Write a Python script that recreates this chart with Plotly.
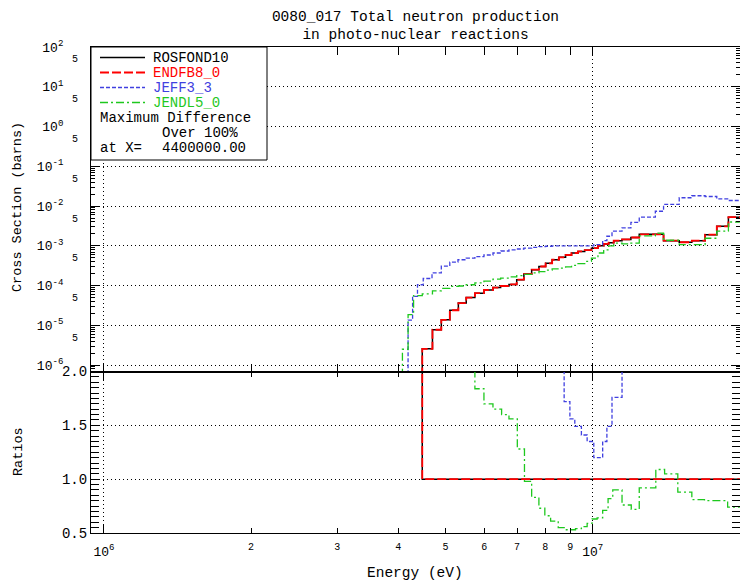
import math
import plotly.graph_objects as go

# ---------------- data ----------------
# Top panel: cross sections (barns) as histogram steps; each value holds from its
# energy up to the next energy.  1e-9 marks "zero" below threshold (off the log axis).
ros_e = [4.00e6, 4.48e6, 4.70e6, 4.90e6, 5.10e6, 5.31e6, 5.51e6, 5.74e6, 5.99e6, 6.25e6,
         6.48e6, 6.74e6, 6.99e6, 7.23e6, 7.50e6, 7.76e6, 8.01e6, 8.26e6, 8.53e6, 8.80e6,
         9.05e6, 9.33e6, 9.63e6, 9.94e6, 1.025e7, 1.053e7, 1.078e7, 1.104e7, 1.148e7, 1.197e7,
         1.245e7, 1.343e7, 1.396e7, 1.503e7, 1.595e7, 1.698e7, 1.794e7, 1.895e7, 2.00e7]
ros_xs = [1e-9, 2.57e-6, 7.76e-6, 1.38e-5, 2.40e-5, 3.63e-5, 5.01e-5, 6.46e-5, 7.76e-5, 8.91e-5,
          9.77e-5, 1.07e-4, 1.41e-4, 1.95e-4, 2.51e-4, 3.02e-4, 3.63e-4, 4.47e-4, 5.13e-4, 5.89e-4,
          6.61e-4, 7.24e-4, 7.76e-4, 8.71e-4, 1.00e-3, 1.12e-3, 1.20e-3, 1.35e-3, 1.45e-3, 1.62e-3,
          1.95e-3, 1.95e-3, 1.35e-3, 1.23e-3, 1.35e-3, 1.91e-3, 3.09e-3, 5.25e-3, 5.25e-3]

endf_e = [4.00e6, 4.48e6, 4.70e6, 4.90e6, 5.10e6, 5.31e6, 5.51e6, 5.74e6, 5.99e6, 6.25e6,
          6.48e6, 6.74e6, 6.99e6, 7.23e6, 7.50e6, 7.76e6, 8.01e6, 8.26e6, 8.53e6, 8.80e6,
          9.05e6, 9.33e6, 9.63e6, 9.94e6, 1.025e7, 1.053e7, 1.078e7, 1.104e7, 1.148e7, 1.197e7,
          1.245e7, 1.343e7, 1.396e7, 1.503e7, 1.595e7, 1.698e7, 1.794e7, 1.895e7, 2.00e7]
endf_xs = [1e-9, 2.57e-6, 7.76e-6, 1.38e-5, 2.40e-5, 3.63e-5, 5.01e-5, 6.46e-5, 7.76e-5, 8.91e-5,
           9.77e-5, 1.07e-4, 1.41e-4, 1.95e-4, 2.51e-4, 3.02e-4, 3.63e-4, 4.47e-4, 5.13e-4, 5.89e-4,
           6.61e-4, 7.24e-4, 7.76e-4, 8.71e-4, 1.00e-3, 1.12e-3, 1.20e-3, 1.35e-3, 1.45e-3, 1.62e-3,
           1.95e-3, 1.95e-3, 1.35e-3, 1.23e-3, 1.35e-3, 1.91e-3, 3.09e-3, 5.25e-3, 5.25e-3]

jeff_e = [4.00e6, 4.19e6, 4.28e6, 4.38e6, 4.50e6, 4.69e6, 4.90e6, 5.10e6, 5.30e6, 5.51e6,
          5.74e6, 5.99e6, 6.25e6, 6.49e6, 6.74e6, 6.99e6, 7.23e6, 7.50e6, 7.76e6, 8.01e6,
          8.26e6, 1.005e7, 1.048e7, 1.069e7, 1.095e7, 1.148e7, 1.197e7, 1.245e7, 1.343e7, 1.396e7,
          1.503e7, 1.595e7, 1.698e7, 1.794e7, 1.895e7, 2.00e7]
jeff_xs = [1e-9, 1.35e-5, 5.37e-5, 1.05e-4, 1.51e-4, 2.09e-4, 3.09e-4, 3.89e-4, 4.47e-4, 4.90e-4,
           5.37e-4, 5.89e-4, 6.61e-4, 7.41e-4, 7.94e-4, 8.32e-4, 8.71e-4, 9.12e-4, 9.55e-4, 9.77e-4,
           1.00e-3, 1.07e-3, 1.35e-3, 1.74e-3, 2.34e-3, 2.82e-3, 3.89e-3, 5.25e-3, 7.41e-3, 1.10e-2,
           1.62e-2, 1.82e-2, 1.74e-2, 1.51e-2, 1.38e-2, 1.38e-2]

jendl_e = [4.00e6, 4.08e6, 4.19e6, 4.30e6, 4.48e6, 4.70e6, 4.90e6, 5.10e6, 5.31e6, 5.51e6,
           5.74e6, 5.99e6, 6.25e6, 6.48e6, 6.74e6, 6.99e6, 7.23e6, 7.50e6, 7.76e6, 8.01e6,
           8.26e6, 8.53e6, 8.80e6, 9.05e6, 9.33e6, 9.63e6, 9.94e6, 1.025e7, 1.053e7, 1.078e7,
           1.104e7, 1.148e7, 1.197e7, 1.245e7, 1.343e7, 1.396e7, 1.503e7, 1.595e7, 1.698e7, 1.794e7,
           1.895e7, 2.00e7]
jendl_xs = [1e-9, 2.51e-6, 1.86e-5, 5.62e-5, 6.17e-5, 7.41e-5, 8.51e-5, 9.55e-5, 9.77e-5, 1.05e-4,
            1.17e-4, 1.29e-4, 1.45e-4, 1.55e-4, 1.66e-4, 1.78e-4, 1.91e-4, 2.09e-4, 2.24e-4, 2.45e-4,
            2.63e-4, 2.75e-4, 2.95e-4, 3.24e-4, 3.55e-4, 4.07e-4, 4.90e-4, 6.61e-4, 7.94e-4, 1.00e-3,
            1.17e-3, 1.12e-3, 1.17e-3, 1.78e-3, 2.09e-3, 1.38e-3, 1.07e-3, 1.07e-3, 1.55e-3, 2.34e-3,
            3.98e-3, 3.98e-3]

# Bottom panel: ratios to ROSFOND10 (10.0 = off the top of the scale, >2)
ratio_ros_e = [4.00e6, 4.48e6, 2.00e7]
ratio_ros = [10.0, 1.0, 1.0]
ratio_endf_e = [4.00e6, 4.48e6, 2.00e7]
ratio_endf = [10.0, 1.0, 1.0]
ratio_jeff_e = [4.48e6, 8.74e6, 8.98e6, 9.19e6, 9.48e6, 9.74e6, 1.005e7, 1.048e7, 1.069e7,
                1.095e7, 1.148e7, 2.00e7]
ratio_jeff = [10.0, 1.72, 1.56, 1.49, 1.41, 1.35, 1.20, 1.35, 1.49, 1.76, 10.0, 10.0]
ratio_jendl_e = [4.48e6, 5.74e6, 5.99e6, 6.25e6, 6.51e6, 6.74e6, 7.01e6, 7.25e6, 7.50e6, 7.76e6,
                 7.98e6, 8.20e6, 8.50e6, 8.77e6, 9.22e6, 9.48e6, 9.74e6, 9.97e6, 1.021e7, 1.048e7,
                 1.075e7, 1.099e7, 1.148e7, 1.199e7, 1.245e7, 1.346e7, 1.403e7, 1.493e7, 1.595e7,
                 1.693e7, 1.888e7, 2.00e7]
ratio_jendl = [10.0, 1.84, 1.70, 1.65, 1.60, 1.56, 1.28, 0.98, 0.83, 0.73,
               0.66, 0.61, 0.55, 0.53, 0.54, 0.56, 0.59, 0.63, 0.64, 0.71,
               0.82, 0.90, 0.76, 0.72, 0.92, 1.09, 1.05, 0.88, 0.81,
               0.80, 0.74, 0.74]

series_names = ["ROSFOND10", "ENDFB8_0", "JEFF3_3", "JENDL5_0"]
legend_notes = ["Maximum Difference", "Over 100%", "at X=", "4400000.00"]
title_text = "0080_017 Total neutron production<br>in photo-nuclear reactions"

# tick labels
y_decades = [1e-6, 1e-5, 1e-4, 1e-3, 1e-2, 1e-1, 1e0, 1e1, 1e2]
y_decade_text = ["10<sup>-6</sup>", "10<sup>-5</sup>", "10<sup>-4</sup>", "10<sup>-3</sup>",
                 "10<sup>-2</sup>", "10<sup>-1</sup>", "10<sup>0</sup>", "10<sup>1</sup>",
                 "10<sup>2</sup>"]
y_fives = [5e-6, 5e-5, 5e-4, 5e-3, 5e-2, 5e-1, 5e0, 5e1]
y_five_text = ["5", "5", "5", "5", "5", "5", "5", "5"]
x_decades = [1e6, 1e7]
x_decade_text = ["10<sup>6</sup>", "10<sup>7</sup>"]
x_digits = [2e6, 3e6, 4e6, 5e6, 6e6, 7e6, 8e6, 9e6, 2e7]
x_digit_text = ["2", "3", "4", "5", "6", "7", "8", "9", "2"]
ratio_ticks = [0.5, 1.0, 1.5, 2.0]
ratio_text = ["0.5", "1.0", "1.5", "2.0"]

# ---------------- styles ----------------
FONT = "Liberation Mono, DejaVu Sans Mono, monospace"
COLORS = ["#000000", "#ff0000", "#4040e0", "#1ec81e"]
DASHES = ["solid", "9px,3px", "4px,2px", "8px,3px,2px,3px"]
WIDTHS = [1.5, 1.8, 1.3, 1.3]

L, T, W, H = 91, 47, 649, 486          # plot area in pixels
SPLIT = (T + H - 371.5) / H            # boundary between the panels (paper fraction)
XR = [5.9735, 7.3013]
YR_TOP = [-6.16, 2.0]


def fx(p):
    return (p - L) / W


def fy(p):
    return (T + H - p) / H


fig = go.Figure()

top = [(ros_e, ros_xs), (endf_e, endf_xs), (jeff_e, jeff_xs), (jendl_e, jendl_xs)]
bot = [(ratio_ros_e, ratio_ros), (ratio_endf_e, ratio_endf),
       (ratio_jeff_e, ratio_jeff), (ratio_jendl_e, ratio_jendl)]

for i, name in enumerate(series_names):
    ln = dict(shape="hv", color=COLORS[i], dash=DASHES[i], width=WIDTHS[i])
    fig.add_trace(go.Scatter(x=top[i][0], y=top[i][1], mode="lines", line=ln, name=name,
                             xaxis="x", yaxis="y", showlegend=False, hoverinfo="skip"))
for i, name in enumerate(series_names):
    ln = dict(shape="hv", color=COLORS[i], dash=DASHES[i], width=WIDTHS[i])
    fig.add_trace(go.Scatter(x=bot[i][0], y=bot[i][1], mode="lines", line=ln, name=name,
                             xaxis="x2", yaxis="y2", showlegend=False, hoverinfo="skip"))

# empty traces so the overlaid label axes are drawn
fig.add_trace(go.Scatter(x=[], y=[], xaxis="x3", yaxis="y2", showlegend=False, hoverinfo="skip"))
fig.add_trace(go.Scatter(x=[], y=[], xaxis="x", yaxis="y3", showlegend=False, hoverinfo="skip"))

x_minor = dict(tickmode="array", tickvals=x_digits, ticks="inside", ticklen=5,
               tickcolor="black", showgrid=False)
axis_common = dict(showline=True, linecolor="black", linewidth=1, mirror="allticks",
                   ticks="inside", tickcolor="black", zeroline=False,
                   gridcolor="black", griddash="1px,3px", gridwidth=1)

y_minor_vals = [k * 10.0 ** n for n in range(-7, 2) for k in range(2, 10)
                if YR_TOP[0] < math.log10(k * 10.0 ** n) < YR_TOP[1]]

fig.update_layout(
    width=740, height=580, autosize=False,
    margin=dict(l=L, r=0, t=T, b=580 - T - H, pad=0),
    paper_bgcolor="white", plot_bgcolor="white",
    hovermode=False,
    font=dict(family=FONT, color="black", size=13),
    title=dict(text=title_text, x=0.5, xref="paper", xanchor="center",
               y=1 - 20.5 / 580, yref="container", yanchor="middle",
               font=dict(family=FONT, size=14.5, color="black")),
    xaxis=dict(domain=[0, 1], anchor="y", type="log", range=XR,
               tickmode="array", tickvals=x_decades, ticklen=8, showticklabels=False,
               showgrid=True, minor=x_minor, **axis_common),
    xaxis2=dict(domain=[0, 1], anchor="y2", type="log", range=XR,
                tickmode="array", tickvals=x_decades, ticktext=x_decade_text, ticklen=8,
                tickfont=dict(size=13), ticklabelstandoff=6,
                showgrid=True, minor=x_minor, **axis_common),
    xaxis3=dict(overlaying="x2", anchor="y2", side="bottom", type="log", range=XR,
                tickmode="array", tickvals=x_digits, ticktext=x_digit_text, ticks="",
                tickfont=dict(size=10), ticklabelstandoff=6,
                showgrid=False, showline=False, zeroline=False),
    yaxis=dict(domain=[SPLIT, 1], anchor="x", type="log", range=YR_TOP,
               tickmode="array", tickvals=y_decades, ticktext=y_decade_text, ticklen=8,
               tickfont=dict(size=13), ticklabelstandoff=24, showgrid=True,
               minor=dict(tickmode="array", tickvals=y_minor_vals, ticks="inside",
                          ticklen=4, tickcolor="black", showgrid=False),
               **axis_common),
    yaxis3=dict(overlaying="y", anchor="x", side="left", type="log", range=YR_TOP,
                tickmode="array", tickvals=y_fives, ticktext=y_five_text, ticks="",
                tickfont=dict(size=10), ticklabelstandoff=12,
                showgrid=False, showline=False, zeroline=False),
    yaxis2=dict(domain=[0, SPLIT], anchor="x2", range=[0.5, 2.0],
                tickmode="array", tickvals=ratio_ticks, ticktext=ratio_text, ticklen=8,
                tickfont=dict(size=14), ticklabelstandoff=0, showgrid=True,
                minor=dict(dtick=0.05, ticks="inside", ticklen=4, tickcolor="black",
                           showgrid=False),
                **axis_common),
)

# ---------------- legend box (drawn by hand to match the IDL layout) ----------------
shapes = [dict(type="rect", xref="paper", yref="paper", x0=fx(91), x1=fx(267),
               y0=fy(160), y1=fy(47), line=dict(color="black", width=1),
               fillcolor="white", layer="above")]
rows = [57.5, 72.5, 87.5, 102.5]
annotations = []
for i, name in enumerate(series_names):
    shapes.append(dict(type="line", xref="paper", yref="paper", x0=fx(100), x1=fx(145),
                       y0=fy(rows[i]), y1=fy(rows[i]), layer="above",
                       line=dict(color=COLORS[i], dash=DASHES[i], width=WIDTHS[i])))
    annotations.append(dict(text=name, xref="paper", yref="paper", x=fx(152), y=fy(rows[i]),
                            xanchor="left", yanchor="middle", showarrow=False, borderpad=0,
                            height=15, valign="middle",
                            font=dict(family=FONT, size=14, color=COLORS[i])))
note_pos = [(99, 117.5), (161, 132.5), (99, 147.5), (161, 147.5)]
for txt, (px, py) in zip(legend_notes, note_pos):
    annotations.append(dict(text=txt, xref="paper", yref="paper", x=fx(px), y=fy(py),
                            xanchor="left", yanchor="middle", showarrow=False, borderpad=0,
                            height=15, valign="middle",
                            font=dict(family=FONT, size=14, color="black")))

# axis titles
annotations.append(dict(text="Cross Section (barns)", xref="paper", yref="paper",
                        x=fx(18), y=fy(207), textangle=-90, showarrow=False,
                        xanchor="center", yanchor="middle",
                        font=dict(family=FONT, size=13.5, color="black")))
annotations.append(dict(text="Ratios", xref="paper", yref="paper",
                        x=fx(18), y=fy(452), textangle=-90, showarrow=False,
                        xanchor="center", yanchor="middle",
                        font=dict(family=FONT, size=13.5, color="black")))
annotations.append(dict(text="Energy (eV)", xref="paper", yref="paper",
                        x=fx(414.5), y=fy(573), showarrow=False,
                        xanchor="center", yanchor="middle",
                        font=dict(family=FONT, size=14.5, color="black")))

fig.update_layout(shapes=shapes, annotations=annotations)

fig.write_html("out.html")
